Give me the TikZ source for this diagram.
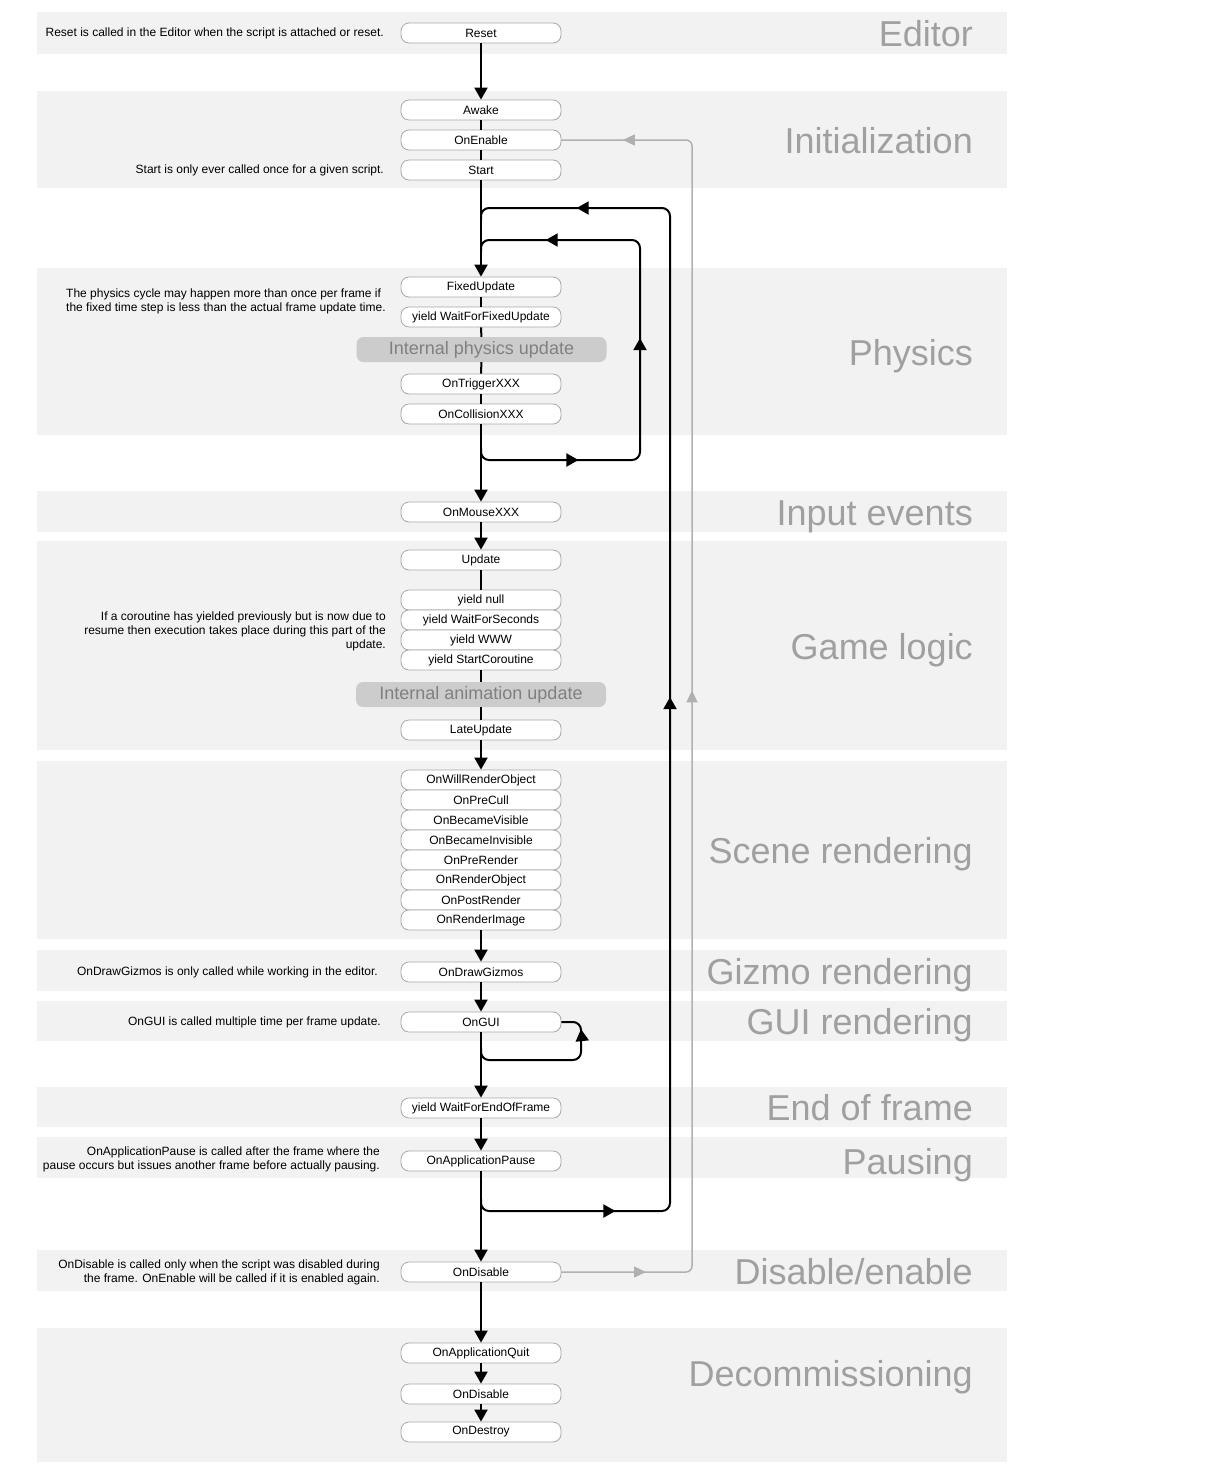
\documentclass[tikz,border=0pt]{standalone}
\usepackage{fontspec}
\setmainfont{Liberation Sans}
\usetikzlibrary{arrows.meta,decorations.markings}
\definecolor{ordband}{HTML}{F2F2F2}
\definecolor{ordedge}{HTML}{A8A8A8}
\definecolor{ordlabel}{HTML}{A0A0A0}
\definecolor{ordinternal}{HTML}{CCCCCC}
\definecolor{ordinttext}{HTML}{808080}
\definecolor{ordreturn}{HTML}{B0B0B0}
\tikzset{
  band/.style={fill=ordband},
  fn/.style={draw=ordedge, fill=white, line width=0.8pt, rounded corners=8pt,
    minimum width=160pt, minimum height=20pt, inner sep=0pt,
    font=\fontsize{12}{14}\selectfont},
  internal/.style={fill=ordinternal, rounded corners=7pt, minimum width=250pt,
    minimum height=25pt, inner sep=0pt, text=ordinttext,
    font=\fontsize{18}{20}\selectfont},
  note/.style={inner sep=0pt, align=right, anchor=east,
    font=\fontsize{12}{14}\selectfont},
  phase/.style={inner sep=0pt, anchor=base east, text=ordlabel,
    font=\fontsize{36}{40}\selectfont},
  flow/.style={-{Triangle[length=12pt,width=13pt]}, line width=2pt},
  link/.style={line width=2pt},
  repeatline/.style={line width=2pt, rounded corners=8pt, postaction={decorate}},
  reenable/.style={line width=1.5pt, draw=ordreturn, rounded corners=6pt, postaction={decorate}},
}
\newcommand{\flowtip}{\arrow{Triangle[length=12pt,width=13pt]}}
\newcommand{\backtip}{\arrow[ordreturn]{Triangle[length=12pt,width=11pt]}}

\begin{document}
\begin{tikzpicture}[x=1pt, y=-1pt]
\useasboundingbox (0,0) rectangle (1216,1484);
% phase bands
\fill[band] (37,12) rectangle (1007,54);
\fill[band] (37,91) rectangle (1007,188);
\fill[band] (37,268) rectangle (1007,435);
\fill[band] (37,491) rectangle (1007,532);
\fill[band] (37,541) rectangle (1007,750);
\fill[band] (37,761) rectangle (1007,939);
\fill[band] (37,950) rectangle (1007,991);
\fill[band] (37,1001) rectangle (1007,1041);
\fill[band] (37,1087) rectangle (1007,1127);
\fill[band] (37,1137) rectangle (1007,1178);
\fill[band] (37,1250) rectangle (1007,1291);
\fill[band] (37,1328) rectangle (1007,1462);

% phase names
\node[phase] (pEditor) at (973,46) {Editor};
\node[phase] (pInit) at (973,153) {Initialization};
\node[phase] (pPhysics) at (973,365) {Physics};
\node[phase] (pInput) at (973,525) {Input events};
\node[phase] (pGame) at (973,659) {Game logic};
\node[phase] (pScene) at (973,863) {Scene rendering};
\node[phase] (pGizmo) at (973,984) {Gizmo rendering};
\node[phase] (pGUI) at (973,1034) {GUI rendering};
\node[phase] (pEnd) at (973,1120) {End of frame};
\node[phase] (pPause) at (973,1174) {Pausing};
\node[phase] (pDisable) at (973,1284) {Disable/enable};
\node[phase] (pDecom) at (973,1386) {Decommissioning};

% loops (behind the event nodes)
\coordinate (gA) at (692,1272);
\coordinate (gB) at (692,140);
\coordinate (gC) at (561,140);
\draw[reenable, decoration={markings,
    mark=at position 85pt with {\backtip},
    mark=at position 710pt with {\backtip},
    mark=at position 1327pt with {\backtip}}]
  (561,1272) -- (gA) -- (gB) -- (gC);
\coordinate (fA) at (481,1199);
\coordinate (fB) at (670,1211);
\coordinate (fC) at (670,208);
\coordinate (fD) at (481,220);
\draw[repeatline, decoration={markings,
    mark=at position 143pt with {\flowtip},
    mark=at position 708pt with {\flowtip},
    mark=at position 1287pt with {\flowtip}}]
  (fA) |- (fB) -- (fC) -| (fD);
\coordinate (yA) at (481,448);
\coordinate (yB) at (640,460);
\coordinate (yC) at (640,240);
\coordinate (yD) at (481,252);
\draw[repeatline, decoration={markings,
    mark=at position 106pt with {\flowtip},
    mark=at position 286pt with {\flowtip},
    mark=at position 475pt with {\flowtip}}]
  (yA) |- (yB) -- (yC) -| (yD);
\coordinate (uA) at (481,1048);
\coordinate (uB) at (581,1060);
\coordinate (uC) at (581,1022);
\draw[repeatline, decoration={markings,
    mark=at position 136pt with {\flowtip}}]
  (uA) |- (uB) -- (uC) -- (561,1022);

% event functions
\node[fn] (reset) at (481,33) {Reset};
\node[fn] (awake) at (481,110) {Awake};
\node[fn] (onenable) at (481,140) {OnEnable};
\node[fn] (start) at (481,170) {Start};
\node[fn] (fixed) at (481,287) {FixedUpdate};
\node[fn] (yfixed) at (481,317) {yield WaitForFixedUpdate};
\node[internal] (physint) at (481.5,349.5) {Internal physics update};
\node[fn] (trigger) at (481,384) {OnTriggerXXX};
\node[fn] (collision) at (481,414) {OnCollisionXXX};
\node[fn] (mouse) at (481,512) {OnMouseXXX};
\node[fn] (update) at (481,560) {Update};
\node[fn] (ynull) at (481,600) {yield null};
\node[fn] (yseconds) at (481,620) {yield WaitForSeconds};
\node[fn] (ywww) at (481,640) {yield WWW};
\node[fn] (ystart) at (481,660) {yield StartCoroutine};
\node[internal] (animint) at (481,694.5) {Internal animation update};
\node[fn] (late) at (481,730) {LateUpdate};
\node[fn] (willrender) at (481,780) {OnWillRenderObject};
\node[fn] (precull) at (481,800) {OnPreCull};
\node[fn] (visible) at (481,820) {OnBecameVisible};
\node[fn] (invisible) at (481,840) {OnBecameInvisible};
\node[fn] (prerender) at (481,860) {OnPreRender};
\node[fn] (renderobj) at (481,880) {OnRenderObject};
\node[fn] (postrender) at (481,900) {OnPostRender};
\node[fn] (renderimg) at (481,920) {OnRenderImage};
\node[fn] (gizmos) at (481,972) {OnDrawGizmos};
\node[fn] (ongui) at (481,1022) {OnGUI};
\node[fn] (endframe) at (481,1108) {yield WaitForEndOfFrame};
\node[fn] (pause) at (481,1161) {OnApplicationPause};
\node[fn] (disable) at (481,1272) {OnDisable};
\node[fn] (quit) at (481,1353) {OnApplicationQuit};
\node[fn] (disabletwo) at (481,1394) {OnDisable};
\node[fn] (destroy) at (481,1432) {OnDestroy};

% main flow
\draw[flow] (reset) -- (awake);
\draw[link] (awake) -- (onenable);
\draw[link] (onenable) -- (start);
\draw[flow] (start) -- (fixed);
\draw[link] (fixed) -- (yfixed);
\draw[link] (yfixed) -- (physint);
\draw[link] (physint) -- (trigger);
\draw[link] (trigger) -- (collision);
\draw[flow] (collision) -- (mouse);
\draw[flow] (mouse) -- (update);
\draw[link] (update) -- (ynull);
\draw[link] (ystart) -- (animint);
\draw[link] (animint) -- (late);
\draw[flow] (late) -- (willrender);
\draw[flow] (renderimg) -- (gizmos);
\draw[flow] (gizmos) -- (ongui);
\draw[flow] (ongui) -- (endframe);
\draw[flow] (endframe) -- (pause);
\draw[flow] (pause) -- (disable);
\draw[flow] (disable) -- (quit);
\draw[flow] (quit) -- (disabletwo);
\draw[flow] (disabletwo) -- (destroy);

% notes
\node[note] (resetnote) at (384,33) {Reset is called in the Editor when the script is attached or reset.};
\node[note] (startnote) at (384,170) {Start is only ever called once for a given script.};
\node[note, anchor=west, align=left] (physnote) at (66,301)
  {The physics cycle may happen more than once per frame if\\the fixed time step is less than the actual frame update time.};
\node[note] (coroutnote) at (386,631)
  {If a coroutine has yielded previously but is now due to\\resume then execution takes place during this part of the\\update.};
\node[note] (gizmonote) at (378,972) {OnDrawGizmos is only called while working in the editor.};
\node[note] (guinote) at (381,1022) {OnGUI is called multiple time per frame update.};
\node[note] (pausenote) at (380,1159)
  {OnApplicationPause is called after the frame where the\\pause occurs but issues another frame before actually pausing.};
\node[note] (disablenote) at (380,1272)
  {OnDisable is called only when the script was disabled during\\the frame. OnEnable will be called if it is enabled again.};
\end{tikzpicture}
\end{document}
